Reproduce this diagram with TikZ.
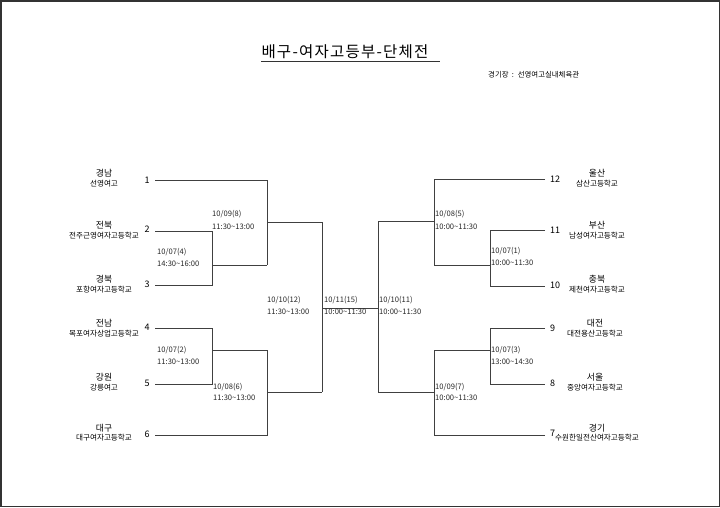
\documentclass[tikz,border=0pt]{standalone}
\usepackage{fontspec}
\setmainfont{Noto Sans CJK KR}
\begin{document}
\begin{tikzpicture}[x=1pt,y=-1pt,
  ln/.style={draw=black!75, line width=0.8pt},
  datelab/.style={font=\fontsize{7.6}{8}\selectfont, anchor=west, inner sep=0pt, text=black!85},
  numlab/.style={font=\fontsize{9}{10}\selectfont, inner sep=0pt},
  region/.style={font=\fontsize{8.8}{10}\selectfont, inner sep=0pt},
  school/.style={font=\fontsize{7.6}{9}\selectfont, inner sep=0pt}]
\useasboundingbox (0,0) rectangle (720,507);
\draw[line width=1.5pt, black!80] (0.75,0.75) rectangle (719.25,506.25);

% title
\node[font=\fontsize{15.5}{17}\selectfont\addfontfeature{LetterSpace=8}, inner sep=0pt] (title) at (345,52) {배구-여자고등부-단체전};
\coordinate (ulA) at (261,61.5);
\coordinate (ulB) at (440,61.5);
\draw[black!80, line width=0.8pt] (ulA) -- (ulB);
\node[font=\fontsize{7.4}{9}\selectfont, anchor=west, inner sep=0pt] (venue) at (488,75) {경기장 \ : \ 선영여고실내체육관};

% ---------- coordinates ----------
% left top
\coordinate (a1) at (155,180); \coordinate (a1e) at (267,180);
\coordinate (a2) at (155,231); \coordinate (a2e) at (212,231);
\coordinate (a3) at (155,285); \coordinate (a3e) at (212,285);
\coordinate (m4s) at (212,265); \coordinate (m4e) at (267,265);
\coordinate (m8s) at (267,222); \coordinate (m8e) at (322,222);
% left bottom
\coordinate (a4) at (155,328); \coordinate (a4e) at (212,328);
\coordinate (a5) at (155,384); \coordinate (a5e) at (212,384);
\coordinate (m2s) at (212,350); \coordinate (m2e) at (267,350);
\coordinate (a6) at (155,435); \coordinate (a6e) at (267,435);
\coordinate (m6s) at (267,392); \coordinate (m6e) at (322,392);
% center
\coordinate (fL) at (322,308); \coordinate (fR) at (378,308);
% right top
\coordinate (b12) at (545,179); \coordinate (b12e) at (434,179);
\coordinate (b11) at (545,230); \coordinate (b11e) at (490,230);
\coordinate (b10) at (545,286); \coordinate (b10e) at (490,286);
\coordinate (m1s) at (490,265); \coordinate (m1e) at (434,265);
\coordinate (m5s) at (434,221); \coordinate (m5e) at (378,221);
% right bottom
\coordinate (b9) at (545,328); \coordinate (b9e) at (490,328);
\coordinate (b8) at (545,384); \coordinate (b8e) at (490,384);
\coordinate (m3s) at (490,350); \coordinate (m3e) at (434,350);
\coordinate (b7) at (545,435); \coordinate (b7e) at (434,435);
\coordinate (m7s) at (434,392); \coordinate (m7e) at (378,392);

% ---------- bracket lines ----------
\draw[ln] (a1) -- (a1e) -- (m4e);
\draw[ln] (a2) -- (a2e) -- (a3e) -- (a3);
\draw[ln] (m4s) -- (m4e);
\draw[ln] (m8s) -- (m8e);
\draw[ln] (a4) -- (a4e) -- (a5e) -- (a5);
\draw[ln] (m2s) -- (m2e);
\draw[ln] (a6) -- (a6e) -- (m2e);
\draw[ln] (m6s) -- (m6e);
\draw[ln] (m8e) -- (m6e);
\draw[ln] (fL) -- (fR);
\draw[ln] (m5e) -- (m7e);
\draw[ln] (b12) -- (b12e) -- (m1e);
\draw[ln] (m5s) -- (m5e);
\draw[ln] (b11) -- (b11e) -- (b10e) -- (b10);
\draw[ln] (m1s) -- (m1e);
\draw[ln] (b9) -- (b9e) -- (b8e) -- (b8);
\draw[ln] (m3s) -- (m3e);
\draw[ln] (b7) -- (b7e) -- (m3e);
\draw[ln] (m7s) -- (m7e);

% ---------- date labels ----------
\node[datelab] (d4a) at (157,252) {10/07(4)};
\node[datelab] (d4b) at (157,264) {14:30\textasciitilde16:00};
\node[datelab] (d8a) at (212,214) {10/09(8)};
\node[datelab] (d8b) at (212,227) {11:30\textasciitilde13:00};
\node[datelab] (d2a) at (157,350) {10/07(2)};
\node[datelab] (d2b) at (157,362) {11:30\textasciitilde13:00};
\node[datelab] (d6a) at (213,387) {10/08(6)};
\node[datelab] (d6b) at (213,398) {11:30\textasciitilde13:00};
\node[datelab] (d12a) at (267,300) {10/10(12)};
\node[datelab] (d12b) at (267,312) {11:30\textasciitilde13:00};
\node[datelab] (d15a) at (324,300) {10/11(15)};
\node[datelab] (d15b) at (324,312) {10:00\textasciitilde11:30};
\node[datelab] (d11a) at (379,300) {10/10(11)};
\node[datelab] (d11b) at (379,312) {10:00\textasciitilde11:30};
\node[datelab] (d5a) at (435,214) {10/08(5)};
\node[datelab] (d5b) at (435,227) {10:00\textasciitilde11:30};
\node[datelab] (d1a) at (491,251) {10/07(1)};
\node[datelab] (d1b) at (491,263) {10:00\textasciitilde11:30};
\node[datelab] (d3a) at (491,350) {10/07(3)};
\node[datelab] (d3b) at (491,362) {13:00\textasciitilde14:30};
\node[datelab] (d7a) at (435,387) {10/09(7)};
\node[datelab] (d7b) at (435,398) {10:00\textasciitilde11:30};

% ---------- seed numbers ----------
\node[numlab] (n1) at (147,180) {1};
\node[numlab] (n2) at (147,229) {2};
\node[numlab] (n3) at (147,284) {3};
\node[numlab] (n4) at (147,327) {4};
\node[numlab] (n5) at (147,383) {5};
\node[numlab] (n6) at (147,434) {6};
\node[numlab, anchor=west] (n12) at (550,179) {12};
\node[numlab, anchor=west] (n11) at (550,230) {11};
\node[numlab, anchor=west] (n10) at (550,285) {10};
\node[numlab, anchor=west] (n9) at (550,328) {9};
\node[numlab, anchor=west] (n8) at (550,383) {8};
\node[numlab, anchor=west] (n7) at (550,433) {7};

% ---------- teams left ----------
\node[region] (r1) at (104,173) {경남};
\node[school] (s1) at (104,184) {선영여고};
\node[region] (r2) at (104,225) {전북};
\node[school] (s2) at (104,236) {전주근영여자고등학교};
\node[region] (r3) at (104,279) {경북};
\node[school] (s3) at (104,290) {포항여자고등학교};
\node[region] (r4) at (104,323) {전남};
\node[school] (s4) at (104,334) {목포여자상업고등학교};
\node[region] (r5) at (104,377) {강원};
\node[school] (s5) at (104,388) {강릉여고};
\node[region] (r6) at (104,428) {대구};
\node[school] (s6) at (104,438) {대구여자고등학교};

% ---------- teams right ----------
\node[region] (r12) at (597,173) {울산};
\node[school] (s12) at (597,184) {삼산고등학교};
\node[region] (r11) at (597,225) {부산};
\node[school] (s11) at (597,236) {남성여자고등학교};
\node[region] (r10) at (597,279) {충북};
\node[school] (s10) at (597,290) {제천여자고등학교};
\node[region] (r9) at (595,323) {대전};
\node[school] (s9) at (595,334) {대전용산고등학교};
\node[region] (r8) at (595,377) {서울};
\node[school] (s8) at (595,388) {중앙여자고등학교};
\node[region] (r7) at (597,428) {경기};
\node[school] (s7) at (597,438) {수원한일전산여자고등학교};
\end{tikzpicture}
\end{document}
